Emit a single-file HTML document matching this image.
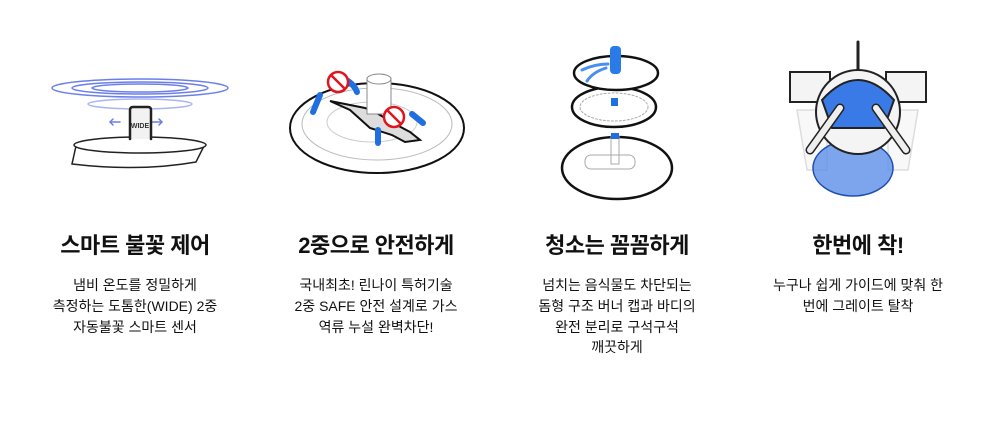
<!DOCTYPE html>
<html><head><meta charset="utf-8"><style>
body{margin:0;width:1000px;height:425px;background:#fff;overflow:hidden;font-family:"Liberation Sans","Noto Sans CJK KR",sans-serif;color:#111;position:relative}
.col{position:absolute;top:231px;width:240px;text-align:center}
.t{font-size:22px;font-weight:bold;line-height:30px;letter-spacing:-0.5px}
.d{margin-top:14px;font-size:14px;line-height:20.8px}
svg{position:absolute;left:0;top:0}
</style></head><body>
<svg width="1000" height="220" viewBox="0 0 1000 220" fill="none" stroke-linecap="round">
<!-- 1 -->
<g stroke="#6b7fe8" stroke-width="1.5">
<ellipse cx="140" cy="88" rx="88" ry="9"/><ellipse cx="140" cy="88" rx="68" ry="6"/><ellipse cx="140" cy="88" rx="48" ry="4"/>
<ellipse cx="140" cy="104" rx="52" ry="5" stroke="#a9b5f0"/>
<path d="M120 122h-9M152 122h9" /><path d="M113 119l-3 3 3 3M159 119l3 3-3 3"/>
</g>
<path d="M76 146 Q140 134 204 146 L196 162 Q140 172 72 164 Z" fill="#fff" stroke="#222" stroke-width="1.5"/>
<ellipse cx="140" cy="145" rx="66" ry="8" fill="#fff" stroke="#222" stroke-width="1.5"/>
<path d="M130 139V110q0-3 3-3h15q3 0 3 3v29" fill="#f2f2f2" stroke="#222" stroke-width="2.5"/>
<text x="140" y="128" font-size="7" font-weight="bold" text-anchor="middle" fill="#333" stroke="none" font-family="Liberation Sans">WIDE</text>
<!-- 2 -->
<ellipse cx="377" cy="128" rx="87" ry="45" fill="#fff" stroke="#111" stroke-width="2"/>
<ellipse cx="377" cy="124" rx="75" ry="36" stroke="#bbb" stroke-width="1"/>
<ellipse cx="372" cy="122" rx="45" ry="20" stroke="#ccc" stroke-width="1"/>
<path d="M330 101 L365 108 L375 112 L395 124 L410 132 L420 140 L405 142 L392 135 L370 128 L350 110 Z" fill="#ddd" stroke="#111" stroke-width="2"/>
<rect x="367" y="78" width="24" height="36" fill="#fff" stroke="#888"/>
<ellipse cx="379" cy="79" rx="12" ry="5" fill="#fff" stroke="#888"/>
<g stroke="#1f6fe0" stroke-width="6"><path d="M320 95 L313 112"/><path d="M348 81 Q355 86 357 92"/><path d="M378 143 V130"/><path d="M412 114 L423 123"/></g>
<g stroke="#e0141e" stroke-width="2.5" fill="#fff"><circle cx="338" cy="82" r="10"/><circle cx="394" cy="117" r="10"/></g>
<g stroke="#e0141e" stroke-width="2.5"><path d="M332 76l12 12M388 111l12 12"/></g>
<!-- 3 -->
<ellipse cx="617" cy="168" rx="55" ry="31" fill="#fff" stroke="#111" stroke-width="2.5"/>
<rect x="585" y="155" width="50" height="14" rx="6" stroke="#aaa"/>
<rect x="611" y="136" width="8" height="28" stroke="#aaa"/>
<ellipse cx="614" cy="107" rx="42" ry="20" fill="#fff" stroke="#111" stroke-width="2.5"/>
<ellipse cx="614" cy="107" rx="34" ry="14" stroke="#aaa" stroke-dasharray="2 2"/>
<rect x="611" y="98" width="7" height="8" fill="#1f6fe0" stroke="none"/>
<rect x="611" y="133" width="8" height="6" fill="#1f6fe0" stroke="none"/>
<ellipse cx="616" cy="73" rx="42" ry="17" fill="#fff" stroke="#111" stroke-width="2.5"/>
<rect x="610" y="46" width="11" height="28" rx="4" fill="#2a7be8" stroke="none"/>
<path d="M582 70 Q595 64 608 64 M587 81 Q593 72 606 68" stroke="#4a8ff0" stroke-width="3"/>
<!-- 4 -->
<g stroke="#ddd" stroke-width="1.5" fill="#f8f8f8"><path d="M797 110h30v60h-20zM918 110h-30v60h20z"/></g>
<ellipse cx="853" cy="168" rx="40" ry="28" fill="#5b8fe8" fill-opacity=".8" stroke="#1e4fb0" stroke-width="1.5"/>
<path d="M858 42v30" stroke="#222" stroke-width="3"/>
<path d="M790 72h40v30h-40zM926 72h-40v30h40z" fill="#f4f4f4" stroke="#222" stroke-width="2"/>
<circle cx="858" cy="112" r="42" fill="#f4f4f4" stroke="#222" stroke-width="2"/>
<path d="M822 100 Q858 60 894 100 L884 128 H832 Z" fill="#3a7ae6" stroke="#222" stroke-width="2"/>
<path d="M810 150 L840 108 M906 150 L876 108" stroke="#222" stroke-width="9"/>
<path d="M810 150 L840 108 M906 150 L876 108" stroke="#eee" stroke-width="6"/>
</svg>
<div class="col" style="left:15px"><div class="t">스마트 불꽃 제어</div><div class="d">냄비 온도를 정밀하게<br>측정하는 도톰한(WIDE) 2중<br>자동불꽃 스마트 센서</div></div>
<div class="col" style="left:256px"><div class="t">2중으로 안전하게</div><div class="d">국내최초! 린나이 특허기술<br>2중 SAFE 안전 설계로 가스<br>역류 누설 완벽차단!</div></div>
<div class="col" style="left:497px"><div class="t">청소는 꼼꼼하게</div><div class="d">넘치는 음식물도 차단되는<br>돔형 구조 버너 캡과 바디의<br>완전 분리로 구석구석<br>깨끗하게</div></div>
<div class="col" style="left:738px"><div class="t">한번에 착!</div><div class="d">누구나 쉽게 가이드에 맞춰 한<br>번에 그레이트 탈착</div></div>
</body></html>
